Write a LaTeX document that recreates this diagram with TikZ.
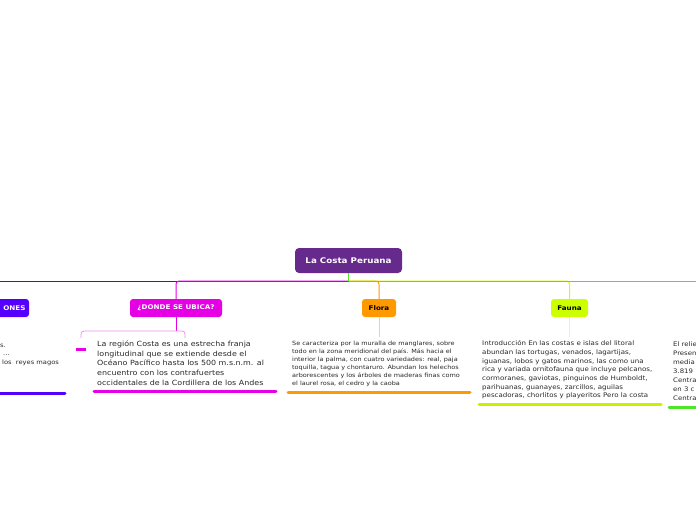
\documentclass[tikz,border=0pt]{standalone}
\usepackage{fontspec}
\setmainfont{DejaVu Sans}[FakeStretch=1.12]
\definecolor{cpurple}{RGB}{102,41,140}
\definecolor{cblue}{RGB}{85,0,255}
\definecolor{cmag}{RGB}{230,0,230}
\definecolor{cpink}{RGB}{240,140,240}
\definecolor{corange}{RGB}{255,153,0}
\definecolor{corlight}{RGB}{250,205,150}
\definecolor{cyel}{RGB}{204,255,0}
\definecolor{cyellight}{RGB}{235,255,140}
\definecolor{cyelline}{RGB}{204,238,0}
\definecolor{cgreen}{RGB}{77,230,38}
\definecolor{ctext}{RGB}{40,40,40}
\tikzset{
  topic/.style={rounded corners=3pt, inner sep=0pt, minimum height=18pt,
    font=\bfseries\fontsize{6.4}{7}\selectfont},
  bodytext/.style={anchor=north west, inner sep=0pt, align=left, text=ctext},
  uline/.style={line width=3pt, line cap=round},
  conn/.style={line width=1pt, rounded corners=3pt}
}
\begin{document}
\begin{tikzpicture}[x=1pt,y=-1pt]
\useasboundingbox (0,0) rectangle (696,520);
\clip (0,0) rectangle (696,520);

% central node
\node[rounded corners=4pt, fill=cpurple, text=white, minimum width=107pt, minimum height=25pt,
  font=\bfseries\fontsize{7.8}{9}\selectfont, inner sep=0pt] (root) at (348.5,260.5) {La Costa Peruana};

% topic nodes
\node[topic, fill=cblue, text=white, minimum width=70pt, text width=63pt, align=right] (lnode) at (-6,308) {ONES};
\node[topic, fill=cmag, text=white, minimum width=92pt] (donde) at (176,308) {¿DONDE SE UBICA?};
\node[topic, fill=corange, text=black, minimum width=34pt] (flora) at (379,308) {Flora};
\node[topic, fill=cyel, text=black, minimum width=37pt] (fauna) at (569.5,308) {Fauna};

% junction coordinates
\coordinate (hub) at (348.5,281);
\coordinate (farL) at (-20,281);
\coordinate (farR) at (720,281);

% branches
\draw[cblue, line width=1pt] (hub) -- (farL);
\draw[cmag, conn] (hub) -- (176,281) -- (donde.north);
\draw[corange, conn] (hub) -- (379,281) -- (flora.north);
\draw[cyel, conn] (hub) -- (569.5,281) -- (fauna.north);
\draw[cgreen, line width=1pt] (hub) -- (farR);
\draw[cgreen, line width=1pt] (root.south) -- (hub);

% left partial text
\node[anchor=base west, inner sep=0pt, text=ctext, font=\fontsize{6}{8}\selectfont] (lt1) at (0,347) {s.};
\node[anchor=base west, inner sep=0pt, text=ctext, font=\fontsize{6}{8}\selectfont] (lt2) at (3,355) {...};
\node[anchor=base west, inner sep=0pt, text=ctext, font=\fontsize{6}{8}\selectfont] (lt3) at (2,364) {los\ \ reyes magos};
\coordinate (lu1) at (-10,393);
\coordinate (lu2) at (65,393);
\draw[cblue, uline] (lu1) -- (lu2);

% DONDE sub
\coordinate (dj) at (176,331);
\draw[cmag, line width=1pt] (donde.south) -- (dj);
\coordinate (bl) at (81,338);
\coordinate (br) at (185,338);
\draw[cpink, line width=0.8pt, rounded corners=3pt] (bl) |- (dj) -| (br);
\coordinate (dd1) at (76,349.5);
\coordinate (dd2) at (86,349.5);
\draw[cmag, line width=3pt] (dd1) -- (dd2);
\node[bodytext, font=\fontsize{7.1}{9.7}\selectfont] (dtext) at (97,340.5)
{La región Costa es una estrecha franja\\
longitudinal que se extiende desde el\\
Océano Pacífico hasta los 500 m.s.n.m. al\\
encuentro con los contrafuertes\\
occidentales de la Cordillera de los Andes};
\coordinate (du1) at (94,391.5);
\coordinate (du2) at (276,391.5);
\draw[cmag, uline] (du1) -- (du2);

% Flora sub
\coordinate (fj) at (379,337);
\draw[corlight, line width=1pt] (flora.south) -- (fj);
\node[bodytext, font=\fontsize{5.8}{8}\selectfont] (ftext) at (292,340.5)
{Se caracteriza por la muralla de manglares, sobre\\
todo en la zona meridional del país. Más hacia el\\
interior la palma, con cuatro variedades: real, paja\\
toquilla, tagua y chontaruro. Abundan los helechos\\
arborescentes y los árboles de maderas finas como\\
el laurel rosa, el cedro y la caoba};
\coordinate (fu1) at (288,392);
\coordinate (fu2) at (470,392);
\draw[corange, uline] (fu1) -- (fu2);

% Fauna sub
\coordinate (faj) at (569.5,337);
\draw[cyellight, line width=1pt] (fauna.south) -- (faj);
\node[bodytext, font=\fontsize{6.3}{8.7}\selectfont] (fatext) at (482,340.5)
{Introducción En las costas e islas del litoral\\
abundan las tortugas, venados, lagartijas,\\
iguanas, lobos y gatos marinos, las como una\\
rica y variada ornitofauna que incluye pelcanos,\\
cormoranes, gaviotas, pinguinos de Humboldt,\\
parihuanas, guanayes, zarcillos, aguilas\\
pescadoras, chorlitos y playeritos Pero la costa};
\coordinate (fau1) at (479,404);
\coordinate (fau2) at (661,404);
\draw[cyelline, uline] (fau1) -- (fau2);

% right partial text
\node[bodytext, font=\fontsize{6.2}{9}\selectfont] (rtext) at (673,341.5)
{El relie\\
Presen\\
media\\
3.819\\
Centra\\
en 3 c\\
Centra};
\coordinate (ru1) at (669,407);
\coordinate (ru2) at (710,407);
\draw[cgreen, uline] (ru1) -- (ru2);
\end{tikzpicture}
\end{document}
